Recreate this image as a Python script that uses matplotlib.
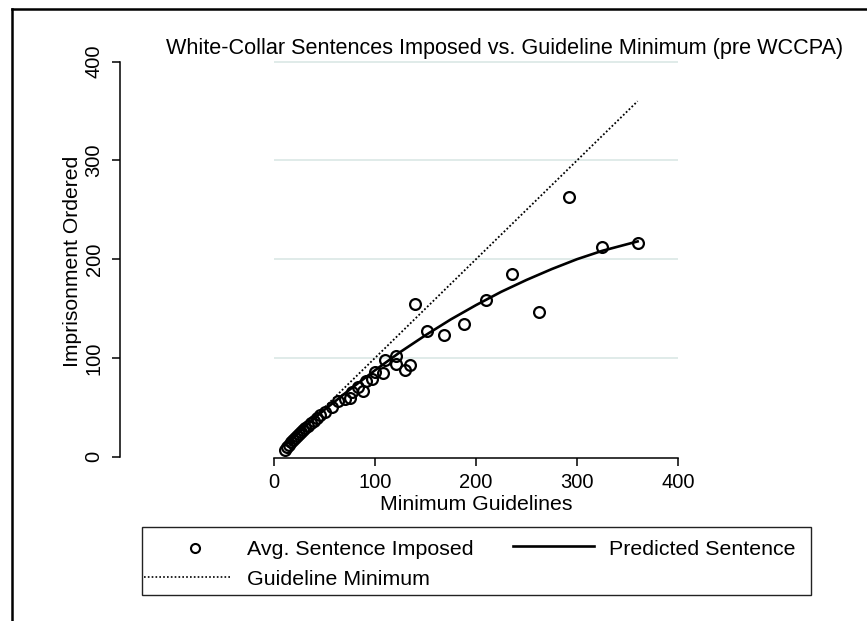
import matplotlib
matplotlib.use("Agg")
import matplotlib.pyplot as plt
from matplotlib.lines import Line2D
from matplotlib.patches import Rectangle

#
# Data
#

# Average sentence imposed (months) for each guideline minimum (months)
guideline_min = [11, 13, 15, 17, 19, 21, 23, 25, 27, 29, 31, 34, 37, 40, 43, 46, 50, 57, 63,
                 70, 75, 77, 83, 88, 91, 97, 100, 108, 110, 120.5, 120.5, 130, 134.5,
                 140, 151, 168.5, 188.5, 210, 235.5, 262.5, 292, 325, 360.5]
avg_sentence = [7, 10, 12, 15, 17, 19, 21, 23, 25, 27, 29, 31, 34, 36, 39, 42, 45, 50, 56,
                58, 59, 66, 71, 67, 77, 79, 86, 85, 98, 101.5, 94, 87.5, 93,
                154.5, 127.5, 123, 134, 159, 185, 146.5, 263, 212, 216]

# Fitted (predicted) sentence
pred_x = [11, 25, 50, 75, 100, 125, 150, 175, 200, 225, 250, 275, 300, 325, 360]
pred_y = [12, 25.5, 47.5, 68, 87.5, 106, 123, 139, 153.5, 167, 179, 190, 200, 208.5, 218]

# Sentence equal to the guideline minimum
guide_x = [11, 360]
guide_y = [11, 360]

ticks = [0, 100, 200, 300, 400]

title = "White-Collar Sentences Imposed vs. Guideline Minimum (pre WCCPA)"
x_title = "Minimum Guidelines"
y_title = "Imprisonment Ordered"
legend_labels = ["Avg. Sentence Imposed", "Predicted Sentence", "Guideline Minimum"]

#
# Graph
#

plt.rcParams["font.family"] = ["Liberation Sans", "DejaVu Sans"]

W, H = 867, 621
fig = plt.figure(figsize=(W / 100, H / 100), dpi=100)


def fx(px):
    return px / W


def fy(py):
    return 1 - py / H


# plot area in pixels; the y axis sits well to the left of x = 0
left_px, right_px, top_px, bottom_px = 120, 700, 40, 458.3
ax = fig.add_axes([fx(left_px), fy(bottom_px), fx(right_px) - fx(left_px), fy(top_px) - fy(bottom_px)])

x0_px, x_scale = 274, 1.01     # pixel of x = 0, pixels per unit
y0_px, y_scale = 456.7, 0.9875
ax.set_xlim((left_px - x0_px) / x_scale, (right_px - x0_px) / x_scale)
ax.set_ylim((y0_px - bottom_px) / y_scale, (y0_px - top_px) / y_scale)

ax.hlines(ticks[1:], 0, 400, color="#dde9e7", lw=1.3, zorder=0)

ax.plot(guide_x, guide_y, color="black", lw=1.3, linestyle=(0, (1, 1.2)), zorder=2)
ax.plot(pred_x, pred_y, color="black", lw=1.9, zorder=3)
ax.plot(guideline_min, avg_sentence, linestyle="none", marker="o", ms=7.8,
        mfc="none", mec="black", mew=1.6, zorder=4, clip_on=False)

for side in ["top", "right"]:
    ax.spines[side].set_visible(False)
ax.spines["left"].set_bounds(0, 400)
ax.spines["bottom"].set_bounds(0, 400)
for side in ["left", "bottom"]:
    ax.spines[side].set_linewidth(1.1)

ax.set_xticks(ticks)
ax.set_yticks(ticks)
ax.tick_params(length=5.8, width=1.1, labelsize=14.5, pad=5)
ax.tick_params(axis="y", labelrotation=90, pad=6)
for lab in ax.get_yticklabels():
    lab.set_va("center")

fig.text(fx(166), fy(54), title, fontsize=15.6, ha="left", va="baseline")
fig.text(fx(476), fy(510), x_title, fontsize=15.3, ha="center", va="baseline")
fig.text(fx(72), fy(261), y_title, fontsize=15.2, ha="center", va="center", rotation=90)

# outer frame (top and left edges only)
fig.add_artist(Line2D([fx(11.5), 1], [fy(9), fy(9)], color="black", lw=1.8))
fig.add_artist(Line2D([fx(11.5), fx(11.5)], [fy(9), 0], color="black", lw=1.8))

# legend box
fig.add_artist(Rectangle((fx(142), fy(595)), fx(811) - fx(142), fy(527) - fy(595),
                         fill=False, ec="#222222", lw=1.0))
fig.add_artist(Line2D([fx(195)], [fy(547.5)], linestyle="none", marker="o", ms=6.5,
                      mfc="none", mec="black", mew=1.5))
fig.add_artist(Line2D([fx(513), fx(594)], [fy(546), fy(546)], color="black", lw=1.9))
fig.add_artist(Line2D([fx(144), fx(232)], [fy(577), fy(577)], color="black", lw=1.2,
                      linestyle=(0, (1, 1.3))))
fig.text(fx(247), fy(555), legend_labels[0], fontsize=15.4, va="baseline")
fig.text(fx(609), fy(555), legend_labels[1], fontsize=15.4, va="baseline")
fig.text(fx(247), fy(585), legend_labels[2], fontsize=15.4, va="baseline")

fig.savefig("out.png", dpi=100)
